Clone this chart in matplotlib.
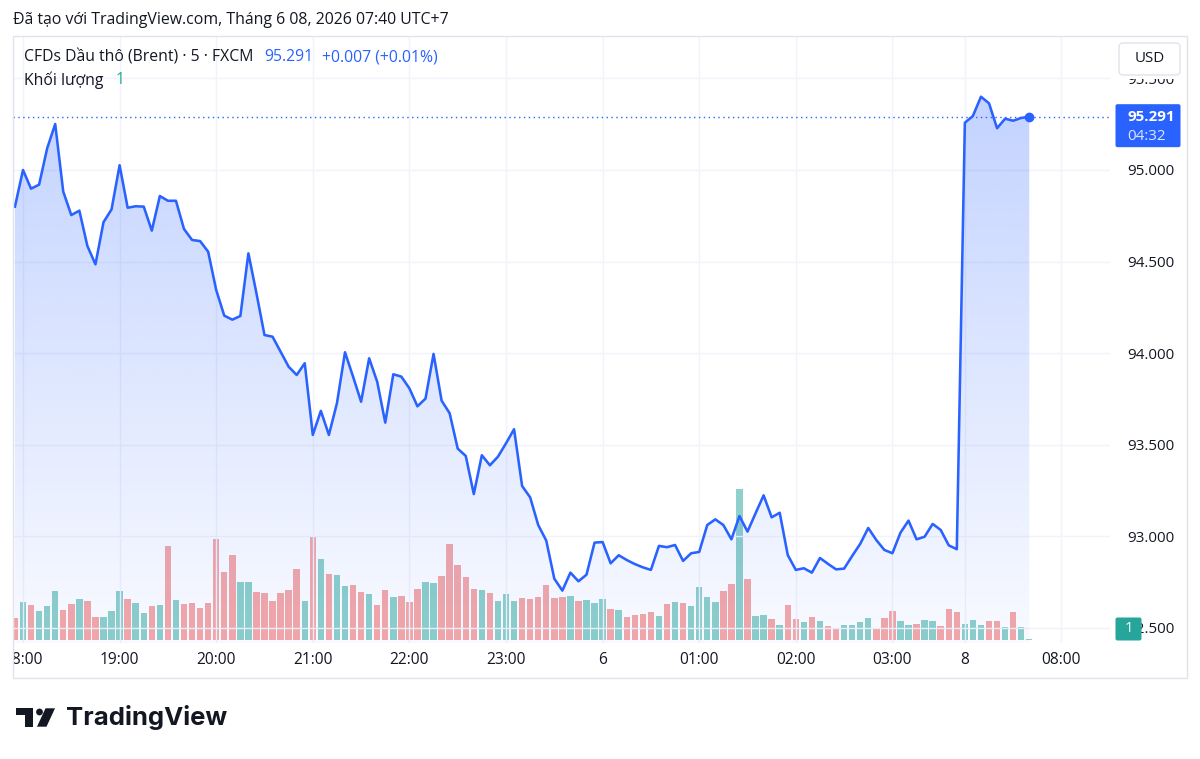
import matplotlib
matplotlib.use("Agg")
import matplotlib.pyplot as plt
import matplotlib.colors as mcolors
import matplotlib.transforms as mtransforms
from matplotlib.patches import Rectangle, FancyBboxPatch, Circle, Polygon
import numpy as np

plt.rcParams['font.family'] = ['Open Sans', 'DejaVu Sans']

# 5-minute bars, index 0 = 18:00 (Jun 5), index 117 = first bar on Jun 8 (07:00)
bar_idx = list(range(-1, 126))
close = [
    94.800, 95.000, 94.898, 94.920, 95.118, 95.251, 94.882, 94.754, 94.778, 94.585,
    94.485, 94.715, 94.785, 95.026, 94.794, 94.802, 94.800, 94.669, 94.858, 94.832,
    94.832, 94.678, 94.618, 94.612, 94.554, 94.345, 94.205, 94.183, 94.203, 94.545,
    94.327, 94.099, 94.090, 94.008, 93.926, 93.881, 93.945, 93.554, 93.685, 93.554,
    93.727, 94.005, 93.872, 93.735, 93.972, 93.844, 93.621, 93.885, 93.872, 93.808,
    93.710, 93.752, 93.996, 93.741, 93.672, 93.479, 93.439, 93.231, 93.443, 93.388,
    93.435, 93.508, 93.585, 93.275, 93.213, 93.062, 92.977, 92.769, 92.704, 92.802,
    92.755, 92.791, 92.966, 92.969, 92.853, 92.897, 92.871, 92.849, 92.831, 92.817,
    92.948, 92.941, 92.953, 92.866, 92.908, 92.915, 93.062, 93.093, 93.062, 92.984,
    93.111, 93.026, 93.126, 93.224, 93.104, 93.129, 92.898, 92.817, 92.826, 92.802,
    92.882, 92.850, 92.820, 92.824, 92.893, 92.959, 93.046, 92.980, 92.926, 92.908,
    93.020, 93.086, 92.984, 92.998, 93.068, 93.035, 92.951, 92.930, 95.258, 95.295,
    95.400, 95.364, 95.228, 95.280, 95.269, 95.284, 95.291,
]
volume = [
    22, 38, 35, 29, 34, 49, 30, 36, 41, 39,
    23, 23, 29, 49, 41, 37, 27, 34, 35, 94,
    40, 36, 37, 32, 37, 101, 68, 85, 58, 58,
    48, 47, 39, 47, 50, 71, 39, 103, 81, 66,
    65, 54, 55, 48, 46, 35, 50, 43, 44, 38,
    51, 58, 57, 64, 96, 75, 63, 51, 50, 47,
    39, 46, 39, 42, 41, 43, 55, 42, 43, 44,
    39, 40, 37, 41, 31, 30, 23, 25, 26, 28,
    24, 36, 38, 37, 34, 53, 43, 38, 49, 56,
    151, 61, 24, 25, 21, 15, 35, 21, 18, 23,
    19, 14, 12, 15, 15, 18, 22, 11, 22, 29,
    19, 15, 16, 20, 19, 14, 31, 28, 16, 20,
    15, 19, 19, 13, 28, 13, 1,
]
# u = up bar, d = down bar
vol_dir = ("duduuuddud" "duuuduudud" "uddddddduu" "ddddddudud" "uudduddudd"
           "duudddddud" "uuuddddddu" "duuududddd" "ududuuuudd" "uduududdud"
           "udduuuuddd" "uuduuddduu" "udduduu")

tick_pos = [0, 12, 24, 36, 48, 60, 72, 84, 96, 108, 117, 129]
tick_lbl = ['18:00', '19:00', '20:00', '21:00', '22:00', '23:00', '6',
            '01:00', '02:00', '03:00', '8', '08:00']
price_ticks = [92.5, 93.0, 93.5, 94.0, 94.5, 95.0, 95.5]
last_price = 95.291
last_volume = 1

BLUE = '#2962ff'
TEXT = '#131722'
GRID = '#f0f3fa'
BORDER = '#e0e3eb'
FS = 10.9

W, H = 1200, 759
fig = plt.figure(figsize=(W / 100, H / 100), dpi=100)
fig.patch.set_facecolor('white')

# pane geometry in pixels
pl, pr, pt, pb = 13, 1110, 36, 643
rect = [pl / W, 1 - pb / H, (pr - pl) / W, (pb - pt) / H]
xlim = (-1.242, 135.03)
ylim = (92.418, 95.7314)

# volume pane underneath
ax_vol = fig.add_axes(rect)
cols = [(0.149, 0.651, 0.604, 0.52) if d == 'u' else (0.937, 0.325, 0.314, 0.5) for d in vol_dir]
ax_vol.bar(bar_idx, volume, width=0.8, color=cols, linewidth=0)
ax_vol.set_xlim(*xlim)
ax_vol.set_ylim(-3, 604)
ax_vol.axis('off')

# price pane on top
ax = fig.add_axes(rect)
ax.patch.set_alpha(0)
poly = ax.fill_between(bar_idx, close, ylim[0], facecolor='none', edgecolor='none')
grad = np.zeros((256, 1, 4))
grad[..., :3] = mcolors.to_rgb(BLUE)
grad[..., 3] = np.linspace(0.03, 0.28, 256)[:, None]
im = ax.imshow(grad, extent=[xlim[0], xlim[1], ylim[0], max(close)], origin='lower',
               aspect='auto', zorder=1, interpolation='bilinear')
im.set_clip_path(poly.get_paths()[0], transform=ax.transData)
ax.plot(bar_idx, close, color=BLUE, lw=1.85, zorder=3)
ax.plot(bar_idx[-1], close[-1], 'o', color=BLUE, ms=6, zorder=4)
ax.axhline(last_price, color=BLUE, lw=1, linestyle=(0, (1, 2.5)), zorder=2)

ax.set_xlim(*xlim)
ax.set_ylim(*ylim)
ax.set_xticks(tick_pos)
ax.set_yticks(price_ticks)
ax.grid(color=GRID, lw=1, zorder=0)
ax.set_axisbelow(True)
ax.tick_params(axis='x', length=0, labelbottom=False)
ax.yaxis.tick_right()
ax.tick_params(axis='y', length=0, pad=12.2, labelsize=FS, labelcolor=TEXT)
ax.set_yticklabels([f'{p:.3f}' for p in price_ticks])
for s in ax.spines.values():
    s.set_visible(False)

# time scale (clipped at the pane's left edge)
ax_time = fig.add_axes([pl / W, 1 - 678 / H, (pr - pl) / W, (678 - pb) / H], sharex=ax)
ax_time.axis('off')
tt = mtransforms.blended_transform_factory(ax_time.transData, ax_time.transAxes)
for p, lbl in zip(tick_pos, tick_lbl):
    ax_time.text(p, 0.5, lbl, transform=tt, ha='center', va='center',
                 fontsize=11.2, color=TEXT, clip_on=True)

# overlay in pixel coordinates for the interface pieces
ov = fig.add_axes([0, 0, 1, 1], zorder=10)
ov.set_xlim(0, W)
ov.set_ylim(H, 0)
ov.axis('off')
ov.patch.set_alpha(0)

ov.add_patch(Rectangle((pl, pt), 1187 - pl, 678 - pt, fill=False, edgecolor=BORDER, lw=1))

ov.text(13, 20, 'Đã tạo với TradingView.com, Tháng 6 08, 2026 07:40 UTC+7',
        fontsize=11.4, color=TEXT, va='center', ha='left')
ov.text(24, 57, 'CFDs Dầu thô (Brent) · 5 · FXCM', fontsize=11.3, color=TEXT, va='center')
ov.text(264, 57, f'{last_price:.3f}', fontsize=11.3, color=BLUE, va='center')
ov.text(322, 57, '+0.007 (+0.01%)', fontsize=11.3, color=BLUE, va='center')
ov.text(24, 80, 'Khối lượng', fontsize=11.3, color=TEXT, va='center')
ov.text(116, 80, str(last_volume), fontsize=11.3, color='#22ab94', va='center')

# USD box (white margin hides most of the 95.500 label)
ov.add_patch(Rectangle((1112, 38), 74, 41, facecolor='white', edgecolor='none'))
ov.add_patch(FancyBboxPatch((1121, 45), 57, 28, boxstyle='round,pad=2,rounding_size=4',
                            facecolor='white', edgecolor=BORDER, lw=1))
ov.text(1149.5, 59, 'USD', fontsize=FS, color=TEXT, ha='center', va='center')

# last price label
y_last = H - ax.transData.transform((0, last_price))[1]
ov.add_patch(FancyBboxPatch((1116, y_last - 12), 64, 42, boxstyle='round,pad=0.5,rounding_size=2',
                            facecolor=BLUE, edgecolor='none'))
ov.text(1127, y_last + 0.5, f'{last_price:.3f}', fontsize=FS, color='white',
        fontweight='bold', va='center')
ov.text(1127, y_last + 20, '04:32', fontsize=FS, color='#dfe6ff', va='center')

# volume label
ov.add_patch(FancyBboxPatch((1116, 618), 25, 22, boxstyle='round,pad=0.5,rounding_size=2',
                            facecolor='#26a69a', edgecolor='none'))
ov.text(1128.5, 629, str(last_volume), fontsize=FS, color='white', ha='center', va='center')

# TradingView logo
ov.add_patch(Polygon([(16, 708.3), (33.3, 708.3), (33.3, 726.7), (25, 726.7), (25, 715), (16, 715)],
                     closed=True, facecolor=TEXT, edgecolor='none'))
ov.add_patch(Circle((39.5, 712), 3.4, facecolor=TEXT, edgecolor='none'))
ov.add_patch(Polygon([(45.5, 708.3), (55, 708.3), (46.5, 726.7), (37, 726.7)],
                     closed=True, facecolor=TEXT, edgecolor='none'))
ov.text(66, 718, 'TradingView', fontsize=18.5, color=TEXT, fontweight='bold',
        family=['Inter', 'DejaVu Sans'], va='center', ha='left')

fig.savefig('out.png', dpi=100, facecolor='white')
